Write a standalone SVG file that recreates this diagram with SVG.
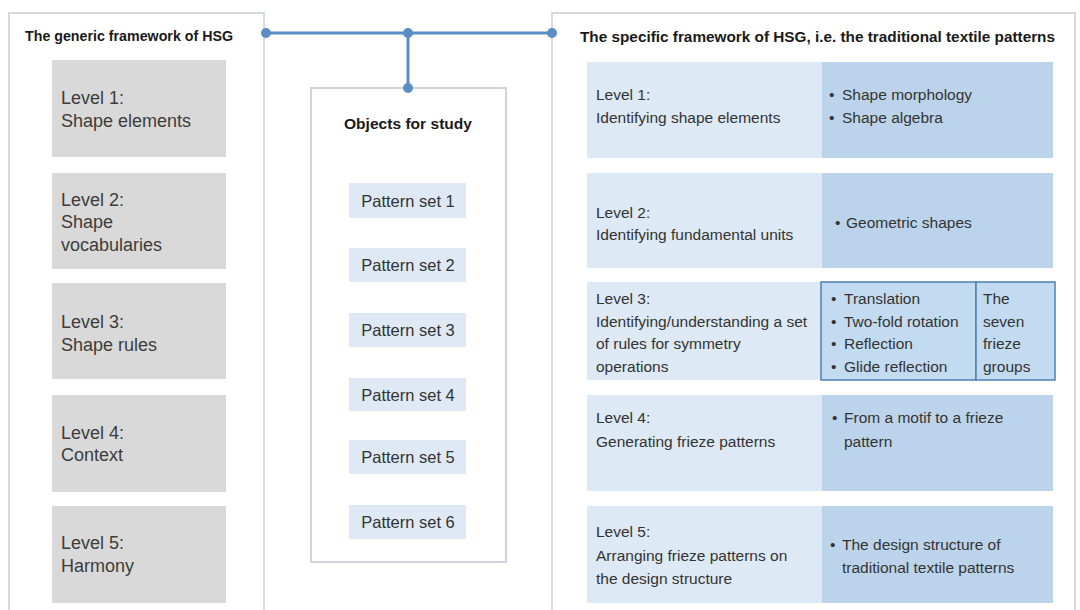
<svg xmlns="http://www.w3.org/2000/svg" width="1080" height="610" viewBox="0 0 1080 610">
<style>
  .panel{fill:#ffffff;stroke:#d6d9de;stroke-width:2}
  .gbox{fill:#d9d9d9}
  .ltxt{font-family:"Liberation Sans",Arial,sans-serif;font-size:18px;fill:#3c3c3c}
  .title{font-family:"Liberation Sans",Arial,sans-serif;font-size:15.5px;font-weight:bold;fill:#1a1a1a}
  .pbox{fill:#dfe9f5}
  .ptxt{font-family:"Liberation Sans",Arial,sans-serif;font-size:16.5px;fill:#333;text-anchor:middle}
  .rl{fill:#dde9f5}
  .rr{fill:#bcd4eb}
  .rtxt{font-family:"Liberation Sans",Arial,sans-serif;font-size:15.5px;fill:#333}
  .ibox{fill:#c3dbf1;stroke:#4f7fb3;stroke-width:1.5}
  .conn{stroke:#5a8ec4;stroke-width:3;fill:none}
  .dot{fill:#5a8ec4}
</style>

<g id="generic-framework">
  <rect class="panel" x="9" y="13" width="255" height="610"/>
  <text class="title" x="25" y="41" textLength="208" lengthAdjust="spacingAndGlyphs">The generic framework of HSG</text>
</g>
<g id="g-level1">
  <rect class="gbox" x="52" y="60" width="174" height="97"/>
  <text class="ltxt" x="61" y="104">Level 1:</text>
  <text class="ltxt" x="61" y="127">Shape elements</text>
</g>
<g id="g-level2">
  <rect class="gbox" x="52" y="173" width="174" height="96"/>
  <text class="ltxt" x="61" y="206">Level 2:</text>
  <text class="ltxt" x="61" y="228">Shape</text>
  <text class="ltxt" x="61" y="251">vocabularies</text>
</g>
<g id="g-level3">
  <rect class="gbox" x="52" y="283" width="174" height="96"/>
  <text class="ltxt" x="61" y="328">Level 3:</text>
  <text class="ltxt" x="61" y="351">Shape rules</text>
</g>
<g id="g-level4">
  <rect class="gbox" x="52" y="395" width="174" height="97"/>
  <text class="ltxt" x="61" y="439">Level 4:</text>
  <text class="ltxt" x="61" y="461">Context</text>
</g>
<g id="g-level5">
  <rect class="gbox" x="52" y="506" width="174" height="97"/>
  <text class="ltxt" x="61" y="549">Level 5:</text>
  <text class="ltxt" x="61" y="572">Harmony</text>
</g>

<g id="objects">
  <rect x="311" y="88" width="195" height="474" fill="#ffffff" stroke="#cdd4de" stroke-width="2"/>
  <text class="title" x="408" y="129" text-anchor="middle" textLength="128" lengthAdjust="spacingAndGlyphs">Objects for study</text>
</g>
<g id="pset1"><rect class="pbox" x="349" y="183" width="117" height="35"/><text class="ptxt" x="408" y="207">Pattern set 1</text></g>
<g id="pset2"><rect class="pbox" x="349" y="248" width="117" height="34"/><text class="ptxt" x="408" y="271">Pattern set 2</text></g>
<g id="pset3"><rect class="pbox" x="349" y="313" width="117" height="34"/><text class="ptxt" x="408" y="336">Pattern set 3</text></g>
<g id="pset4"><rect class="pbox" x="349" y="378" width="117" height="33"/><text class="ptxt" x="408" y="401">Pattern set 4</text></g>
<g id="pset5"><rect class="pbox" x="349" y="440" width="117" height="34"/><text class="ptxt" x="408" y="463">Pattern set 5</text></g>
<g id="pset6"><rect class="pbox" x="349" y="505" width="117" height="34"/><text class="ptxt" x="408" y="528">Pattern set 6</text></g>

<g id="specific-framework">
  <rect class="panel" x="552" y="13" width="523" height="610" stroke="#cfd7e1"/>
  <text class="title" x="580" y="42" textLength="475" lengthAdjust="spacingAndGlyphs">The specific framework of HSG, i.e. the traditional textile patterns</text>
</g>
<g id="s-level1">
  <rect class="rl" x="587" y="62" width="235" height="96"/>
  <rect class="rr" x="822" y="62" width="231" height="96"/>
  <text class="rtxt" x="596" y="100">Level 1:</text>
  <text class="rtxt" x="596" y="123">Identifying shape elements</text>
  <text class="rtxt" x="829" y="100">•<tspan x="842">Shape morphology</tspan></text>
  <text class="rtxt" x="829" y="123">•<tspan x="842">Shape algebra</tspan></text>
</g>
<g id="s-level2">
  <rect class="rl" x="587" y="173" width="235" height="95"/>
  <rect class="rr" x="822" y="173" width="231" height="95"/>
  <text class="rtxt" x="596" y="218">Level 2:</text>
  <text class="rtxt" x="596" y="240">Identifying fundamental units</text>
  <text class="rtxt" x="835" y="228">•<tspan x="846">Geometric shapes</tspan></text>
</g>
<g id="s-level3">
  <rect class="rl" x="587" y="282" width="235" height="98"/>
  <rect class="ibox" x="821" y="282" width="155" height="98"/>
  <rect class="ibox" x="976" y="282" width="79" height="98"/>
  <text class="rtxt" x="596" y="304">Level 3:</text>
  <text class="rtxt" x="596" y="327">Identifying/understanding a set</text>
  <text class="rtxt" x="596" y="349">of rules for symmetry</text>
  <text class="rtxt" x="596" y="372">operations</text>
  <text class="rtxt" x="831" y="304">•<tspan x="844">Translation</tspan></text>
  <text class="rtxt" x="831" y="327">•<tspan x="844">Two-fold rotation</tspan></text>
  <text class="rtxt" x="831" y="349">•<tspan x="844">Reflection</tspan></text>
  <text class="rtxt" x="831" y="372">•<tspan x="844">Glide reflection</tspan></text>
  <text class="rtxt" x="983" y="304">The</text>
  <text class="rtxt" x="983" y="327">seven</text>
  <text class="rtxt" x="983" y="349">frieze</text>
  <text class="rtxt" x="983" y="372">groups</text>
</g>
<g id="s-level4">
  <rect class="rl" x="587" y="395" width="235" height="96"/>
  <rect class="rr" x="822" y="395" width="231" height="96"/>
  <text class="rtxt" x="596" y="423">Level 4:</text>
  <text class="rtxt" x="596" y="447">Generating frieze patterns</text>
  <text class="rtxt" x="832" y="423">•<tspan x="844">From a motif to a frieze</tspan></text>
  <text class="rtxt" x="844" y="447">pattern</text>
</g>
<g id="s-level5">
  <rect class="rl" x="587" y="506" width="235" height="97"/>
  <rect class="rr" x="822" y="506" width="231" height="97"/>
  <text class="rtxt" x="596" y="537">Level 5:</text>
  <text class="rtxt" x="596" y="561">Arranging frieze patterns on</text>
  <text class="rtxt" x="596" y="584">the design structure</text>
  <text class="rtxt" x="830" y="550">•<tspan x="842">The design structure of</tspan></text>
  <text class="rtxt" x="842" y="573">traditional textile patterns</text>
</g>

<g id="connectors">
  <path class="conn" d="M266 33 H552 M408 33 V88"/>
  <circle class="dot" cx="266" cy="33" r="5"/>
  <circle class="dot" cx="408" cy="33" r="5"/>
  <circle class="dot" cx="552" cy="33" r="5"/>
  <circle class="dot" cx="408" cy="88" r="5"/>
</g>
</svg>
